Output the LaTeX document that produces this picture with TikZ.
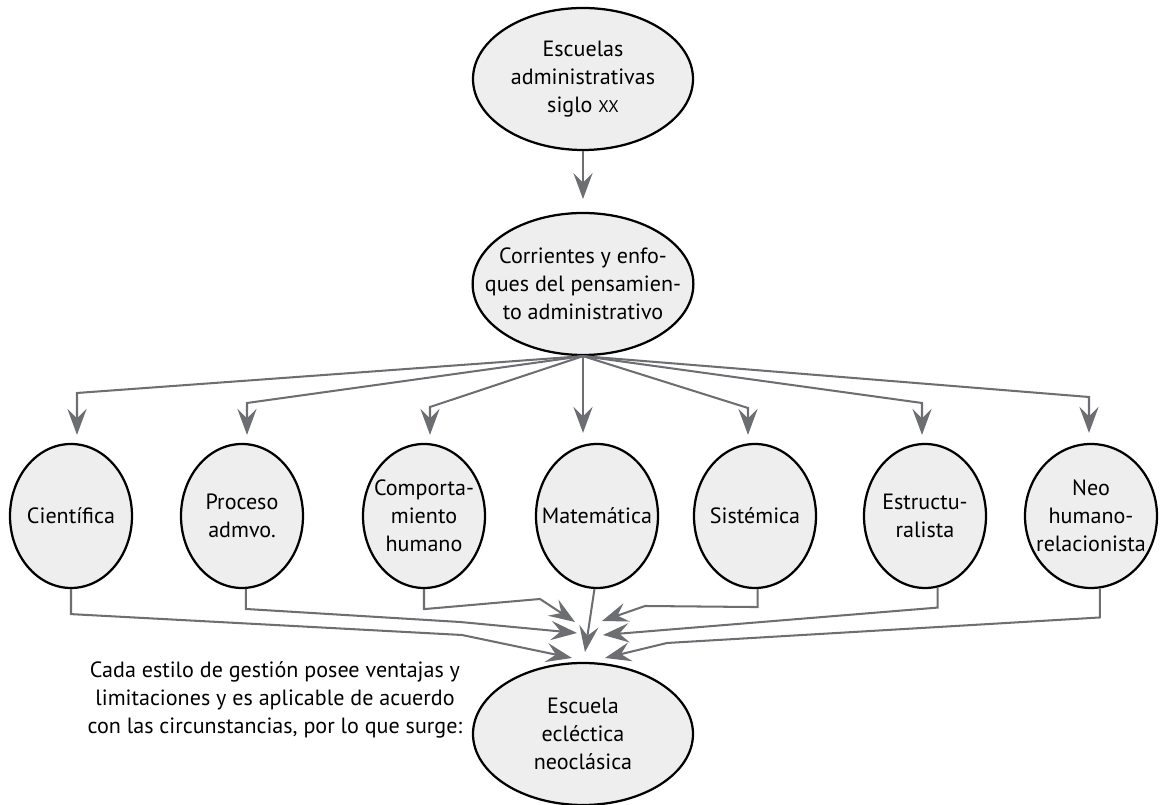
\documentclass[tikz,border=0pt]{standalone}
\usepackage{fontspec}
\setmainfont{PT Sans}
\usepackage{xcolor}
\usetikzlibrary{positioning, arrows.meta, shapes.geometric}

\definecolor{lineGray}{HTML}{6D6E71}
\definecolor{fillGray}{HTML}{EEEEEE}

\tikzset{
  bubble/.style={ellipse, draw=black, line width=1.6pt, fill=fillGray, align=center,
    inner xsep=-0.5cm, inner ysep=0pt, font=\fontsize{15.7}{19.8}\selectfont},
  topbubble/.style={bubble, minimum width=5.5cm, minimum height=3.55cm},
  school/.style={bubble, minimum width=3.05cm, minimum height=3.6cm},
  notetext/.style={align=center, font=\fontsize{15.7}{19.8}\selectfont},
  conn/.style={draw=lineGray, line width=1.45pt, -{Stealth[length=6.5mm, width=4.8mm, inset=2.4mm]}}
}

\begin{document}
\begin{tikzpicture}
\useasboundingbox (0,0) rectangle (29,20.125);

\node[topbubble] (escuelas) at (14.575,18.15) {Escuelas\\administrativas\\siglo {\fontsize{12}{19.8}\selectfont XX}};
\node[topbubble] (corrientes) at (14.575,13.025) {Corrientes y enfo-\\ques del pensamien-\\to administrativo};

\node[school] (cientifica) at (1.775,7.225) {Científica};
\node[school] (proceso) at (6.05,7.225) {Proceso\\admvo.};
\node[school] (comportamiento) at (10.6,7.225) {Comporta-\\miento\\humano};
\node[school] (matematica) at (14.925,7.225) {Matemática};
\node[school] (sistemica) at (18.875,7.225) {Sistémica};
\node[school] (estructuralista) at (23.125,7.225) {Estructu-\\ralista};
\node[school, minimum width=3.3cm] (neo) at (27.275,7.225) {Neo\\humano-\\relacionista};

\node[topbubble] (eclectica) at (14.575,1.775) {Escuela\\ecléctica\\neoclásica};
\node[notetext] (nota) at (6.875,2.625) {Cada estilo de gestión posee ventajas y\\limitaciones y es aplicable de acuerdo\\con las circunstancias, por lo que surge:};

\draw[conn, shorten >=3.2mm] (escuelas.south) -- (corrientes.north);

% bends of the fan
\coordinate (f1) at (1.925,10.3);
\coordinate (f2) at (6.175,10.05);
\coordinate (f3) at (10.75,9.95);
\coordinate (f5) at (18.7,9.925);
\coordinate (f6) at (23.05,10.05);
\coordinate (f7) at (27.225,10.2);

\draw[conn, shorten >=2mm] (corrientes.south) -- (f1) -- (f1 |- cientifica.north);
\draw[conn, shorten >=2mm] (corrientes.south) -- (f2) -- (f2 |- proceso.north);
\draw[conn, shorten >=2mm] (corrientes.south) -- (f3) -- (f3 |- comportamiento.north);
\draw[conn, shorten >=2.5mm] (corrientes.south) -- (corrientes.south |- matematica.north);
\draw[conn, shorten >=2mm] (corrientes.south) -- (f5) -- (f5 |- sistemica.north);
\draw[conn, shorten >=2mm] (corrientes.south) -- (f6) -- (f6 |- estructuralista.north);
\draw[conn, shorten >=2.5mm] (corrientes.south) -- (f7) -- (f7 |- neo.north);

% tips round the eclectic school
\coordinate (t1) at (14.3,3.675);
\coordinate (t2) at (14.425,4.3);
\coordinate (t3) at (14.375,4.575);
\coordinate (t4) at (14.625,3.825);
\coordinate (t5) at (15.05,4.6);
\coordinate (t6) at (15.075,4.25);
\coordinate (t7) at (15.125,3.675);

\draw[conn] (cientifica.south) -- ++(0,-0.625) -- (11.55,4.25) -- (t1);
\draw[conn] (proceso.273) -- ++(0,-0.5) -- (11.5,4.575) -- (t2);
\draw[conn] (comportamiento.south) -- ++(0,-0.5) -- (13.5,5.15) -- (t3);
\draw[conn] (matematica.268) -- (t4);
\draw[conn] (sistemica.272) -- ++(0,-0.45) -- (16.125,4.975) -- (t5);
\draw[conn] (estructuralista.280) -- ++(0,-0.5) -- (t6);
\draw[conn] (neo.277) -- ++(0,-0.725) -- (16.675,4.05) -- (t7);

\end{tikzpicture}
\end{document}
